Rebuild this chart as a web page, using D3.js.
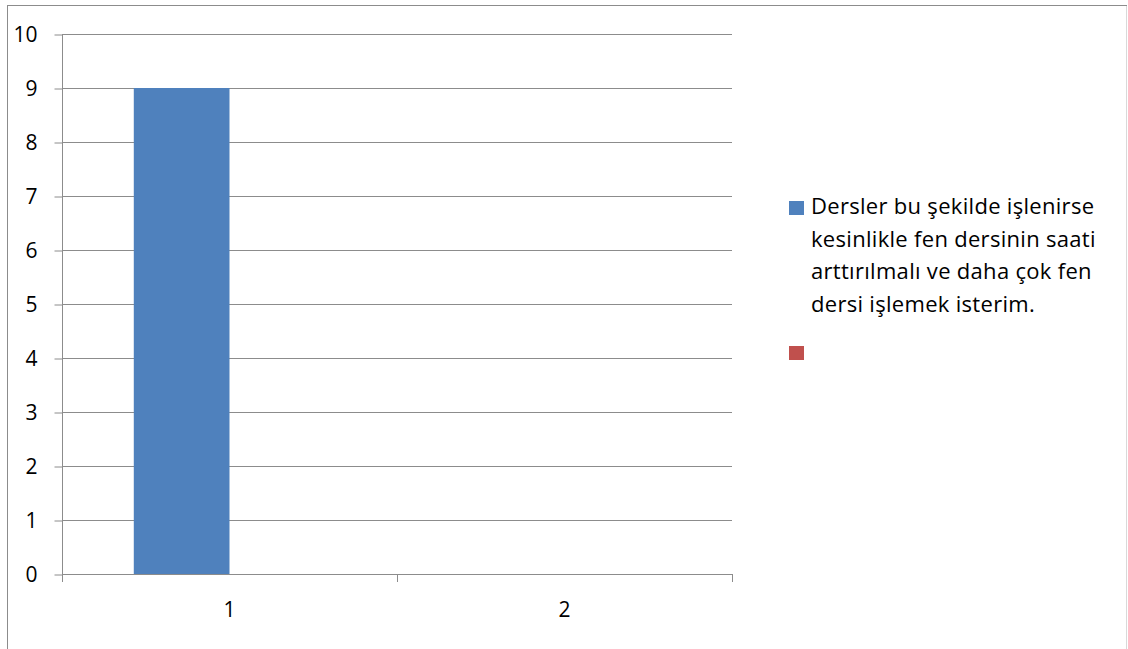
<!DOCTYPE html>
<html>
<head>
<meta charset="utf-8">
<script src="https://cdn.jsdelivr.net/npm/d3@7"></script>
<style>
  html, body { margin: 0; padding: 0; background: #fff; }
  svg { display: block; }
  text { font-family: "Open Sans", Lato, sans-serif; fill: #000; }
</style>
</head>
<body>
<svg id="chart" width="1128" height="649"></svg>
<script>
// Categories on the x axis
const categories = ["1", "2"];
// Series names (second series has an empty name)
const seriesNames = ["Dersler bu şekilde işlenirse kesinlikle fen dersinin saati arttırılmalı ve daha çok fen dersi işlemek isterim.", ""];
// Values per series, one per category (null = no value)
const series1Values = [9, null];
const series2Values = [null, null];
// Y axis ticks
const yTicks = [0, 1, 2, 3, 4, 5, 6, 7, 8, 9, 10];
// Legend text, wrapped into lines
const legendLines = ["Dersler bu şekilde işlenirse", "kesinlikle fen dersinin saati", "arttırılmalı ve daha çok fen", "dersi işlemek isterim."];
const seriesColors = ["#4F81BD", "#C0504D"];

const AXIS_FONT = 21;
const LEGEND_FONT = 22;
const svg = d3.select("#chart");
const W = 1128, H = 649;

// Outer chart frame
svg.append("rect")
  .attr("x", 7.5).attr("y", 5.5)
  .attr("width", 1119).attr("height", 700)
  .attr("fill", "#fff")
  .attr("stroke", "#8c8c8c").attr("stroke-width", 1);
svg.append("line")
  .attr("x1", 1126.5).attr("x2", 1126.5).attr("y1", 6).attr("y2", H)
  .attr("stroke", "#d9d9d9");

const plot = { left: 62, right: 732, top: 34, bottom: 574 };

const x = d3.scaleBand().domain(categories).range([plot.left, plot.right]).padding(0);
const xs = d3.scaleBand().domain(d3.range(seriesNames.length))
  .range([0, x.bandwidth()]).paddingInner(0).paddingOuter(0.75);
const y = d3.scaleLinear().domain([0, 10]).range([plot.bottom, plot.top]);

// Horizontal gridlines
svg.append("g").selectAll("line").data(yTicks).join("line")
  .attr("x1", plot.left).attr("x2", plot.right)
  .attr("y1", d => Math.round(y(d)) + 0.5).attr("y2", d => Math.round(y(d)) + 0.5)
  .attr("stroke", "#8c8c8c").attr("stroke-width", 1);

// Bars
const allSeries = [series1Values, series2Values];
allSeries.forEach((vals, si) => {
  svg.append("g").selectAll("rect")
    .data(categories.map((c, i) => ({ c, v: vals[i] })).filter(d => d.v != null))
    .join("rect")
    .attr("x", d => x(d.c) + xs(si))
    .attr("width", xs.bandwidth())
    .attr("y", d => y(d.v))
    .attr("height", d => y(0) - y(d.v))
    .attr("fill", seriesColors[si]);
});

// Y axis
const yAxis = d3.axisLeft(y).tickValues(yTicks).tickSize(8).tickPadding(17).tickFormat(d3.format("d"));
const gy = svg.append("g").attr("transform", `translate(${plot.left + 0.5},0.5)`).call(yAxis);
gy.select(".domain").attr("stroke", "#8c8c8c").attr("d", `M0,${plot.top}V${plot.bottom}`);
gy.selectAll(".tick line").attr("stroke", "#8c8c8c");
gy.selectAll(".tick text").attr("font-size", AXIS_FONT).attr("font-family", "'Open Sans', sans-serif").attr("fill", "#000");

// X axis: baseline with tick marks at category boundaries
const gx = svg.append("g");
gx.append("line")
  .attr("x1", plot.left).attr("x2", plot.right)
  .attr("y1", plot.bottom + 0.5).attr("y2", plot.bottom + 0.5)
  .attr("stroke", "#8c8c8c");
const bounds = categories.map(c => x(c)).concat([x(categories[categories.length - 1]) + x.bandwidth()]);
gx.selectAll("line.tk").data(bounds).join("line").attr("class", "tk")
  .attr("x1", d => Math.round(d) + 0.5).attr("x2", d => Math.round(d) + 0.5)
  .attr("y1", plot.bottom).attr("y2", plot.bottom + 8)
  .attr("stroke", "#8c8c8c");
gx.selectAll("text").data(categories).join("text")
  .attr("x", d => x(d) + x.bandwidth() / 2)
  .attr("y", plot.bottom + 43)
  .attr("text-anchor", "middle")
  .attr("font-size", AXIS_FONT)
  .text(d => d);

// Legend
const lg = svg.append("g");
lg.append("rect").attr("x", 789).attr("y", 201).attr("width", 15).attr("height", 14).attr("fill", seriesColors[0]);
lg.append("text").attr("font-size", LEGEND_FONT).attr("letter-spacing", 0.3)
  .selectAll("tspan").data(legendLines).join("tspan")
  .attr("x", 811).attr("y", (d, i) => 214 + i * 32.7)
  .text(d => d);
lg.append("rect").attr("x", 789).attr("y", 346).attr("width", 15).attr("height", 14).attr("fill", seriesColors[1]);
</script>
</body>
</html>
